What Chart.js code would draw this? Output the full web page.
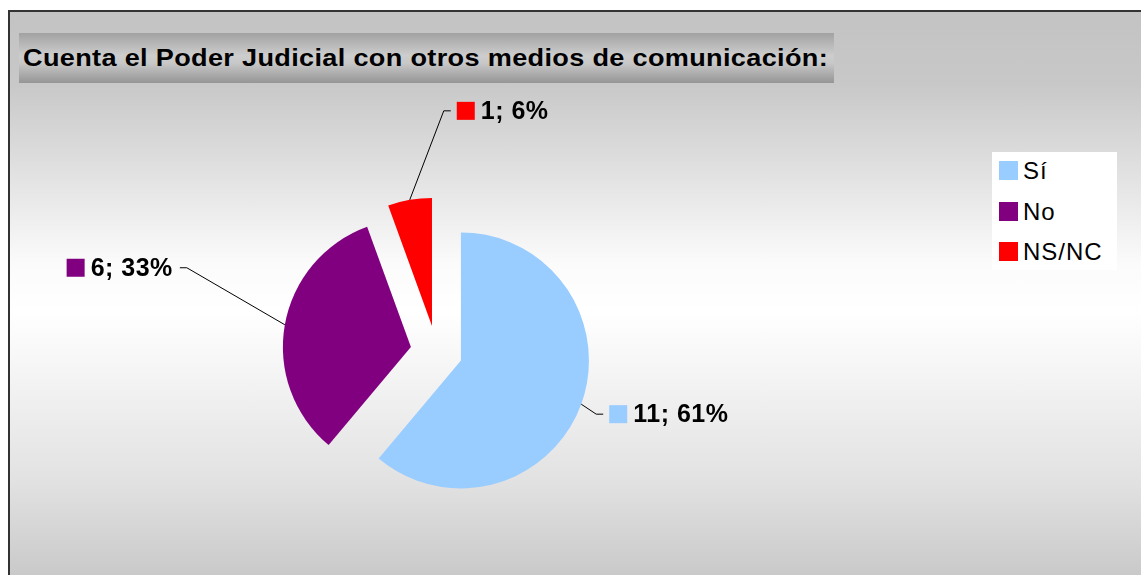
<!DOCTYPE html>
<html lang="es">
<head>
<meta charset="UTF-8">
<title>Cuenta el Poder Judicial con otros medios de comunicación</title>
<script src="https://cdn.jsdelivr.net/npm/chart.js"></script>
<style>
    body {
        margin: 0;
        background: #ffffff;
        font-family: 'Liberation Sans', Arial, sans-serif;
    }
    .page {
        position: relative;
        width: 1141px;
        height: 575px;
        overflow: hidden;
    }
    .frame {
        position: absolute;
        left: 8px;
        top: 10px;
        width: 1131px;
        height: 600px;
        border: 2px solid #333;
        background: linear-gradient(to bottom, #c3c3c3 0%, #c8c8c8 12%, #fbfbfb 42%, #ffffff 50%, #e2e2e2 78%, #c0c0c0 100%);
    }
    .title {
        position: absolute;
        left: 19px;
        top: 33px;
        width: 815px;
        height: 50px;
        background: linear-gradient(to bottom, #a2a2a2 0%, #cdcdcd 45%, #c8c8c8 60%, #959595 100%);
    }
    .title div {
        position: absolute;
        left: 4px;
        top: 0;
        color: #000;
        font-weight: bold;
        font-size: 24px;
        line-height: 50px;
        letter-spacing: 0.3px;
        white-space: nowrap;
        transform-origin: 0 50%;
    }
    #pie {
        position: absolute;
        left: 0;
        top: 0;
    }
    .legend {
        position: absolute;
        left: 992px;
        top: 152px;
        width: 125px;
        height: 118px;
        background: #fff;
    }
    .legend-item {
        position: absolute;
        left: 7px;
        height: 20px;
        font-size: 24px;
        letter-spacing: 1px;
        line-height: 20px;
        white-space: nowrap;
    }
    .legend-item span {
        display: inline-block;
        width: 19px;
        height: 19px;
        margin-right: 5px;
        vertical-align: top;
    }
</style>
</head>
<body>
<div class="page">
    <div class="frame"></div>
    <div class="title"><div id="title">Cuenta el Poder Judicial con otros medios de comunicación:</div></div>
    <canvas id="pie" width="1141" height="575"></canvas>
    <div class="legend" id="legend"></div>
</div>

<script>
    // datos
    const categorias = ['Sí', 'No', 'NS/NC'];
    const valores = [11, 6, 1];
    const porcentajes = ['61%', '33%', '6%'];
    const colores = ['#99CCFF', '#800080', '#FF0000'];

    const EXPLODE = 26;
    // posicion de las etiquetas respecto al borde del sector
    const etiquetas = [
        { dx: 15, dy: 10, side: 'right' },
        { dx: -98, dy: -57, side: 'left' },
        { dx: 34, dy: -89, side: 'right' }
    ];

    // estirar el titulo al ancho original (805px)
    const titulo = document.getElementById('title');
    const tw0 = titulo.getBoundingClientRect().width;
    titulo.style.transform = 'scaleX(' + (805 / tw0).toFixed(4) + ')';

    // leyenda
    const legend = document.getElementById('legend');
    categorias.forEach((cat, i) => {
        const item = document.createElement('div');
        item.className = 'legend-item';
        item.style.top = (9 + i * 40.5) + 'px';
        item.innerHTML = '<span style="background:' + colores[i] + '"></span>' + cat;
        legend.appendChild(item);
    });

    // sectores separados
    const explodePlugin = {
        id: 'explode',
        beforeDatasetDraw(chart, args) {
            const ctx = chart.ctx;
            args.meta.data.forEach(arc => {
                const mid = (arc.startAngle + arc.endAngle) / 2;
                ctx.save();
                ctx.translate(Math.cos(mid) * EXPLODE, Math.sin(mid) * EXPLODE);
                arc.draw(ctx);
                ctx.restore();
            });
            return false;
        }
    };

    // etiquetas con lineas guia
    const labelPlugin = {
        id: 'pieLabels',
        afterDatasetsDraw(chart) {
            const ctx = chart.ctx;
            const meta = chart.getDatasetMeta(0);
            ctx.save();
            ctx.font = "bold 25px 'Liberation Sans'";
            ctx.letterSpacing = '0.5px';
            ctx.textBaseline = 'middle';
            meta.data.forEach((arc, i) => {
                const mid = (arc.startAngle + arc.endAngle) / 2;
                const r = arc.outerRadius + EXPLODE;
                const x0 = arc.x + Math.cos(mid) * r;
                const y0 = arc.y + Math.sin(mid) * r;
                const e = etiquetas[i];
                const x1 = x0 + e.dx;
                const y1 = y0 + e.dy;
                const dir = e.side === 'right' ? 1 : -1;
                const x2 = x1 + dir * 7;

                ctx.strokeStyle = '#000';
                ctx.lineWidth = 1;
                ctx.beginPath();
                ctx.moveTo(x0, y0);
                ctx.lineTo(x1, y1);
                ctx.lineTo(x2, y1);
                ctx.stroke();

                const text = valores[i] + '; ' + porcentajes[i];
                const tw = ctx.measureText(text).width;
                let sx;
                if (dir === 1) {
                    sx = x1 + 13;
                } else {
                    sx = x1 - 14 - tw - 24;
                }
                ctx.fillStyle = colores[i];
                ctx.fillRect(sx, y1 - 9, 18, 18);
                ctx.fillStyle = '#000';
                ctx.textAlign = 'left';
                ctx.fillText(text, sx + 24, y1 + 1);
            });
            ctx.restore();
        }
    };

    const chart = new Chart(document.getElementById('pie'), {
        type: 'pie',
        data: {
            labels: categorias,
            datasets: [{
                data: valores,
                backgroundColor: colores,
                borderWidth: 0,
                hoverOffset: 0
            }]
        },
        options: {
            responsive: false,
            animation: false,
            radius: 128,
            layout: {
                padding: { left: 0, right: 268, top: 128, bottom: 0 }
            },
            plugins: {
                legend: { display: false },
                tooltip: { enabled: false }
            }
        },
        plugins: [explodePlugin, labelPlugin]
    });
</script>
</body>
</html>
